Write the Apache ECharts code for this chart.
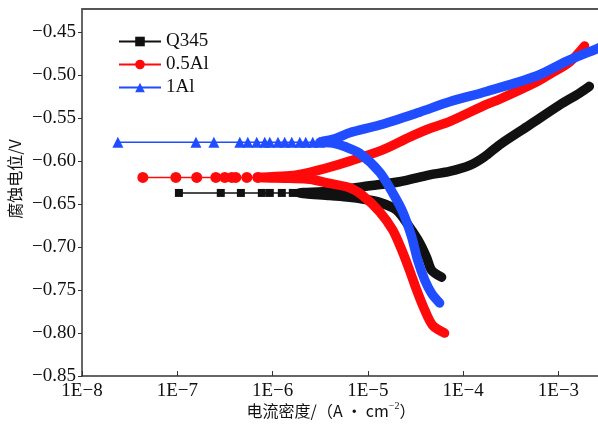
<!DOCTYPE html>
<html>
<head>
<meta charset="utf-8">
<title>极化曲线</title>
<script src="https://cdn.jsdelivr.net/npm/echarts@6/dist/echarts.min.js"></script>
<style>
  html, body { margin: 0; padding: 0; background: #fff; }
  #chart { width: 598px; height: 427px; }
</style>
</head>
<body>
<div id="chart"></div>
<script>
// 图例名称
const sampleNames = ['Q345', '0.5Al', '1Al'];

// 自腐蚀电位附近的稀疏点 [电流密度 A/cm², 电位 V]
const q345Points = [[1.04e-7, -0.637], [2.86e-7, -0.637], [4.65e-7, -0.637], [7.71e-7, -0.637],
  [9.35e-7, -0.637], [1.25e-6, -0.637], [1.63e-6, -0.637], [1.93e-6, -0.637]];
const al05Points = [[4.35e-8, -0.619], [9.66e-8, -0.619], [1.60e-7, -0.619], [2.54e-7, -0.619],
  [3.15e-7, -0.619], [3.73e-7, -0.619], [4.11e-7, -0.619], [5.37e-7, -0.619], [7.00e-7, -0.619]];
const al1Points = [[2.38e-8, -0.578], [1.57e-7, -0.578], [2.42e-7, -0.578], [4.53e-7, -0.578],
  [5.50e-7, -0.578], [6.82e-7, -0.578], [8.28e-7, -0.578], [9.35e-7, -0.578], [1.14e-6, -0.578],
  [1.34e-6, -0.578], [1.59e-6, -0.578], [1.93e-6, -0.578], [2.23e-6, -0.578], [2.64e-6, -0.578],
  [3.13e-6, -0.578]];

// 阴极支 -> 阳极支 (密集测点，画成粗线)
const q345Curve = [[5.94e-5, -0.735], [4.67e-5, -0.727], [4.13e-5, -0.712], [3.49e-5, -0.695],
  [2.74e-5, -0.677], [2.00e-5, -0.657], [1.33e-5, -0.648], [8.81e-6, -0.644], [6.44e-6, -0.642],
  [3.98e-6, -0.640], [1.93e-6, -0.637], [3.98e-6, -0.635], [9.95e-6, -0.629], [2.15e-5, -0.624],
  [4.45e-5, -0.616], [7.19e-5, -0.612], [1.17e-4, -0.605], [1.67e-4, -0.595], [2.41e-4, -0.581],
  [4.97e-4, -0.558], [1.02e-3, -0.535], [1.66e-3, -0.521], [2.11e-3, -0.513]];
const al05Curve = [[6.38e-5, -0.800], [4.78e-5, -0.791], [3.94e-5, -0.773], [3.25e-5, -0.750],
  [2.74e-5, -0.727], [2.26e-5, -0.703], [1.82e-5, -0.680], [1.33e-5, -0.659], [8.81e-6, -0.640],
  [6.44e-6, -0.631], [3.98e-6, -0.626], [2.45e-6, -0.621], [1.51e-6, -0.620], [7.00e-7, -0.619],
  [1.51e-6, -0.617], [2.45e-6, -0.613], [3.98e-6, -0.607], [6.44e-6, -0.600], [1.43e-5, -0.587],
  [2.74e-5, -0.572], [4.45e-5, -0.562], [7.19e-5, -0.554], [1.76e-4, -0.534], [2.41e-4, -0.528],
  [5.87e-4, -0.508], [8.05e-4, -0.499], [1.30e-3, -0.485], [1.88e-3, -0.466]];
const al1Curve = [[5.66e-5, -0.765], [4.67e-5, -0.754], [3.94e-5, -0.738], [3.33e-5, -0.715],
  [2.88e-5, -0.688], [2.32e-5, -0.659], [1.82e-5, -0.637], [1.33e-5, -0.613], [8.20e-6, -0.591],
  [5.71e-6, -0.583], [4.28e-6, -0.579], [3.13e-6, -0.578], [4.49e-6, -0.574], [6.44e-6, -0.567],
  [1.33e-5, -0.558], [3.49e-5, -0.543], [7.19e-5, -0.531], [1.76e-4, -0.519], [5.87e-4, -0.501],
  [1.21e-3, -0.484], [2.56e-3, -0.469], [3.60e-3, -0.462]];

const colors = ['#111111', '#ff0a0a', '#1f4dff'];
const symbols = ['rect', 'circle', 'triangle'];
const symbolSizes = [8, 11, 11];
const pointSets = [q345Points, al05Points, al1Points];
const curveSets = [q345Curve, al05Curve, al1Curve];

const serifFont = "'Liberation Serif', 'Noto Sans CJK SC', serif";
const cjkFont = "'Noto Sans CJK SC', 'Liberation Serif', sans-serif";

const series = [];
sampleNames.forEach((name, i) => {
  series.push({
    name: name,
    type: 'line',
    data: pointSets[i],
    symbol: symbols[i],
    symbolSize: symbolSizes[i],
    showAllSymbol: true,
    itemStyle: { color: colors[i] },
    lineStyle: { color: colors[i], width: 1.5 },
    z: 2 + i * 2
  });
  series.push({
    name: name + '-curve',
    type: 'line',
    data: curveSets[i],
    symbol: 'none',
    smooth: 0.3,
    lineStyle: { color: colors[i], width: 9.5, cap: 'round', join: 'round' },
    z: 3 + i * 2
  });
});

const chart = echarts.init(document.getElementById('chart'), null, { renderer: 'canvas' });
chart.setOption({
  animation: false,
  backgroundColor: '#fff',
  grid: { left: 82, right: -2, top: 9, bottom: 51 },
  legend: {
    data: sampleNames,
    orient: 'vertical',
    left: 118,
    top: 32,
    padding: 0,
    itemWidth: 42,
    itemHeight: 12,
    itemGap: 4,
    textStyle: { fontFamily: serifFont, fontSize: 19, color: '#111', lineHeight: 19 }
  },
  xAxis: [{
    type: 'log',
    logBase: 10,
    min: 1e-8,
    max: 2.6e-3,
    axisLine: { onZero: false, lineStyle: { color: '#333', width: 1.5 } },
    axisTick: { inside: true, length: 5, lineStyle: { color: '#333' } },
    axisLabel: {
      showMaxLabel: false,
      margin: 6,
      color: '#111',
      fontFamily: serifFont,
      fontSize: 19,
      formatter: v => '1E\u2212' + Math.abs(Math.round(Math.log10(v)))
    },
    splitLine: { show: false }
  }, {
    type: 'value',
    position: 'top',
    axisLine: { show: true, lineStyle: { color: '#555', width: 2 } },
    axisTick: { show: false },
    axisLabel: { show: false },
    splitLine: { show: false }
  }],
  yAxis: {
    type: 'value',
    min: -0.85,
    max: -0.423,
    interval: 0.05,
    axisLine: { show: true, onZero: false, lineStyle: { color: '#333', width: 1.5 } },
    axisTick: { show: true, length: 4, lineStyle: { color: '#333' } },
    axisLabel: {
      showMaxLabel: false,
      margin: 6,
      color: '#111',
      fontFamily: serifFont,
      fontSize: 19,
      formatter: v => '\u2212' + Math.abs(v).toFixed(2)
    },
    splitLine: { show: false }
  },
  graphic: [{
    type: 'text',
    x: 15,
    y: 179,
    rotation: Math.PI / 2,
    style: {
      text: '腐蚀电位/V',
      font: "16px " + cjkFont,
      fill: '#111',
      align: 'center',
      verticalAlign: 'middle'
    }
  }, {
    type: 'text',
    x: 331,
    y: 411,
    style: {
      text: '{t|电流密度/（A · cm}{s|−2}{t|）}',
      align: 'center',
      verticalAlign: 'middle',
      rich: {
        t: { fontFamily: cjkFont, fontSize: 16, fill: '#111' },
        s: { fontFamily: serifFont, fontSize: 10, fill: '#111', padding: [0, 0, 9, 0] }
      }
    }
  }],
  series: series
});
</script>
</body>
</html>
